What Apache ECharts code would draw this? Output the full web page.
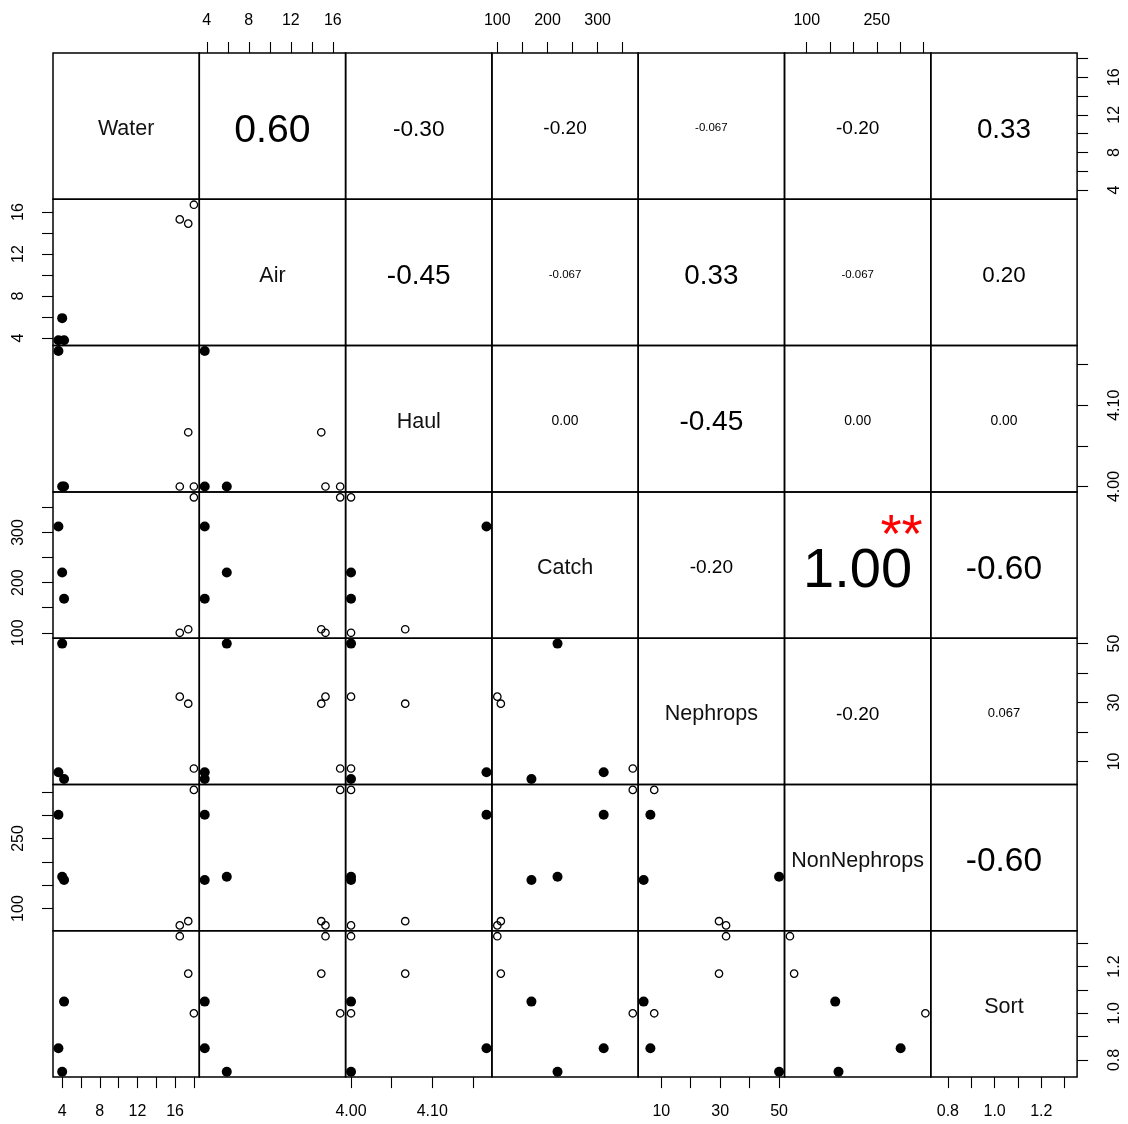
<!DOCTYPE html>
<html>
<head>
<meta charset="utf-8">
<script src="https://cdn.jsdelivr.net/npm/echarts@6/dist/echarts.min.js"></script>
<style>
html,body{margin:0;padding:0;background:#fff}
#chart{width:1128px;height:1124px}
</style>
</head>
<body>
<div id="chart"></div>
<script>
// variables, one value per haul (3 filled + 3 open symbols)
const names = ['Water', 'Air', 'Haul', 'Catch', 'Nephrops', 'NonNephrops', 'Sort'];
const waterVals = [3.6, 4.0, 4.2, 16.5, 17.4, 18.0];
const airVals = [3.8, 5.9, 3.8, 15.3, 14.9, 16.7];
const haulVals = [4.1667, 4.0, 4.0, 4.0, 4.0667, 4.0];
const catchVals = [312, 220, 168, 100, 107, 370];
const nephropsVals = [6.3, 50, 4.0, 32, 29.6, 7.6];
const nonNephropsVals = [301, 168, 161, 64, 73, 354];
const sortVals = [0.85, 0.75, 1.05, 1.33, 1.17, 1.0];
const filled = [true, true, true, false, false, false];

// tick marks and labelled ticks per variable
const waterTicks = [4, 6, 8, 10, 12, 14, 16, 18];
const waterLabels = ['4', '8', '12', '16'];
const airTicks = [4, 6, 8, 10, 12, 14, 16];
const airLabels = ['4', '8', '12', '16'];
const haulTicks = [4.00, 4.05, 4.10, 4.15];
const haulLabels = ['4.00', '4.10'];
const catchTicks = [100, 150, 200, 250, 300, 350];
const catchLabels = ['100', '200', '300'];
const nephropsTicks = [10, 20, 30, 40, 50];
const nephropsLabels = ['10', '30', '50'];
const nonNephropsTicks = [100, 150, 200, 250, 300, 350];
const nonNephropsLabels = ['100', '250'];
const sortTicks = [0.8, 0.9, 1.0, 1.1, 1.2, 1.3];
const sortLabels = ['0.8', '1.0', '1.2'];

// correlations, upper triangle, row by row
const corWater = ['0.60', '-0.30', '-0.20', '-0.067', '-0.20', '0.33'];
const corAir = ['-0.45', '-0.067', '0.33', '-0.067', '0.20'];
const corHaul = ['0.00', '-0.45', '0.00', '0.00'];
const corCatch = ['-0.20', '1.00', '-0.60'];
const corNephrops = ['-0.20', '0.067'];
const corNonNephrops = ['-0.60'];
const signifMarks = [{row: 'Catch', col: 'NonNephrops', mark: '**'}];

const vars = [waterVals, airVals, haulVals, catchVals, nephropsVals, nonNephropsVals, sortVals];
const ticks = [waterTicks, airTicks, haulTicks, catchTicks, nephropsTicks, nonNephropsTicks, sortTicks];
const labels = [waterLabels, airLabels, haulLabels, catchLabels, nephropsLabels, nonNephropsLabels, sortLabels];
const cors = [corWater, corAir, corHaul, corCatch, corNephrops, corNonNephrops];

const N = names.length;
const L = 53, T = 53, S = 146.3;
const FONT = "'Liberation Sans', Arial, sans-serif";

function range(v) {
  const mn = Math.min(...v), mx = Math.max(...v), d = (mx - mn) * 0.04;
  return [mn - d, mx + d];
}
function emWidth(txt) {
  let w = 0;
  for (const c of txt) w += c === '.' ? 0.278 : c === '-' ? 0.333 : c === '*' ? 0.389 : 0.556;
  return w;
}

const grids = [], xAxes = [], yAxes = [], series = [], graphics = [];

function makeAxis(dim, v, gi, pos) {
  const r = range(vars[v]);
  const a = {
    type: 'value', gridIndex: gi, min: r[0], max: r[1],
    splitLine: {show: false},
    axisLine: {show: false, onZero: false}
  };
  if (!pos) { a.show = false; return a; }
  const labs = labels[v];
  a.position = pos;
  a.axisTick = {show: true, inside: false, length: 11, lineStyle: {color: '#000', width: 1.1},
    customValues: ticks[v]};
  const margins = {left: 26, right: 29, top: 24, bottom: 26};
  a.axisLabel = {
    show: true, customValues: labs.map(Number),
    margin: margins[pos], rotate: dim === 'y' ? 90 : 0,
    fontSize: 16, color: '#000', fontFamily: FONT,
    formatter: function (val) {
      const hit = labs.find(s => Math.abs(Number(s) - val) < 1e-6);
      return hit === undefined ? '' : hit;
    }
  };
  return a;
}

function centeredText(x, y, txt, fs, color) {
  return {type: 'text', x: x, y: y + 0.1 * fs + 1, silent: true, z: 10,
    style: {text: txt, fontSize: fs, fontFamily: FONT, fill: color,
      align: 'center', verticalAlign: 'middle', textAlign: 'center', textVerticalAlign: 'middle'}};
}

for (let i = 0; i < N; i++) {
  for (let j = 0; j < N; j++) {
    const gi = i * N + j;
    const left = L + j * S, top = T + i * S;
    grids.push({left: left, top: top, width: S, height: S, show: true,
      borderColor: '#000', borderWidth: 1.5, backgroundColor: 'transparent',
      outerBoundsMode: 'none', containLabel: false});
    let xPos = null, yPos = null;
    if (i === N - 1 && j % 2 === 0) xPos = 'bottom';
    if (i === 0 && j % 2 === 1) xPos = 'top';
    if (j === N - 1 && i % 2 === 0) yPos = 'right';
    if (j === 0 && i % 2 === 1) yPos = 'left';
    xAxes.push(makeAxis('x', j, gi, xPos));
    yAxes.push(makeAxis('y', i, gi, yPos));

    const cx = left + S / 2, cy = top + S / 2;
    if (i === j) {
      graphics.push(centeredText(cx, cy, names[i], 21.5, '#111'));
    } else if (j > i) {
      const txt = cors[i][j - i - 1];
      const r = Math.abs(parseFloat(txt));
      const fs = 82 * (r + 0.33) / emWidth(txt);
      graphics.push(centeredText(cx, cy, txt, fs, '#000'));
      const sig = signifMarks.find(m => m.row === names[i] && m.col === names[j]);
      if (sig) {
        const base = 82 * 1.33 / emWidth(txt);
        graphics.push({type: 'text', x: left + 0.8 * S, y: top + 0.31 * S, silent: true, z: 10,
          style: {text: sig.mark, fontSize: base * 0.97, fontFamily: FONT, fill: '#ff0000',
            align: 'center', verticalAlign: 'middle', textAlign: 'center', textVerticalAlign: 'middle'}});
      }
    } else {
      const solid = [], hollow = [];
      vars[j].forEach((xv, k) => {
        (filled[k] ? solid : hollow).push([xv, vars[i][k]]);
      });
      series.push({type: 'scatter', xAxisIndex: gi, yAxisIndex: gi, data: solid,
        symbol: 'circle', symbolSize: 10, clip: false, silent: true,
        itemStyle: {color: '#000', opacity: 1}});
      series.push({type: 'scatter', xAxisIndex: gi, yAxisIndex: gi, data: hollow,
        symbol: 'circle', symbolSize: 7.4, clip: false, silent: true,
        itemStyle: {color: 'rgba(255,255,255,0)', borderColor: '#000', borderWidth: 1.3, opacity: 1}});
    }
  }
}

const myChart = echarts.init(document.getElementById('chart'));
myChart.setOption({
  animation: false,
  backgroundColor: '#fff',
  grid: grids,
  xAxis: xAxes,
  yAxis: yAxes,
  series: series,
  graphic: graphics
});
</script>
</body>
</html>
